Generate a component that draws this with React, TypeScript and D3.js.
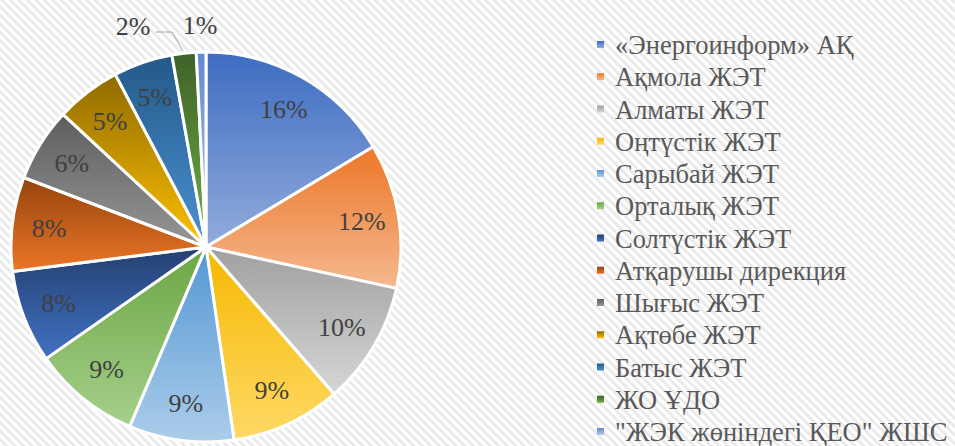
import React from "react";
import * as d3 from "d3";

const categories = [
  "«Энергоинформ» АҚ",
  "Ақмола ЖЭТ",
  "Алматы ЖЭТ",
  "Оңтүстік ЖЭТ",
  "Сарыбай ЖЭТ",
  "Орталық ЖЭТ",
  "Солтүстік ЖЭТ",
  "Атқарушы дирекция",
  "Шығыс ЖЭТ",
  "Ақтөбе ЖЭТ",
  "Батыс ЖЭТ",
  "ЖО ҰДО",
  "\"ЖЭК жөніндегі ҚЕО\" ЖШС",
];
const shares = [16.4, 12.0, 10.2, 9.1, 8.7, 8.9, 7.7, 7.8, 6.1, 5.4, 4.9, 2.0, 0.8];
const colors = [
  "#4472C4", "#ED7D31", "#A5A5A5", "#FFC000", "#5B9BD5", "#70AD47",
  "#264478", "#9E480E", "#636363", "#997300", "#255E91", "#43682B", "#698ED0",
];

const W = 955, H = 446;
const cx = 206, cy = 247, R = 195;
const SERIF = '"Liberation Serif"';

function shade(c: string, dl: number) {
  const h = d3.hsl(c);
  h.l = Math.max(0, Math.min(0.84, h.l + dl));
  return h.formatHex();
}

export default function App() {
  const pie = d3.pie<number>().sort(null).value((d) => d)(shares);
  const arc = d3.arc<d3.PieArcDatum<number>>().innerRadius(0).outerRadius(R);
  const total = d3.sum(shares);
  const fmt = (v: number) => Math.round((v / total) * 100) + "%";

  return (
    <svg width={W} height={H} style={{ position: "absolute", left: 0, top: 0 }}>
      <defs>
        <pattern id="bg" width="6" height="6" patternUnits="userSpaceOnUse" patternTransform="rotate(-45)">
          <rect width="6" height="6" fill="#ffffff" />
          <rect width="2.6" height="6" fill="#e8e8e8" />
        </pattern>
        {colors.map((c, i) => (
          <linearGradient key={i} id={"g" + i} x1="0" y1="0" x2="0" y2="1">
            <stop offset="0" stopColor={shade(c, -0.02)} />
            <stop offset="1" stopColor={shade(c, 0.2)} />
          </linearGradient>
        ))}
      </defs>
      <rect width={W} height={H} fill="url(#bg)" />
      <g transform={`translate(${cx},${cy})`}>
        {pie.map((p, i) => (
          <path key={i} d={arc(p) || ""} fill={`url(#g${i})`} stroke="#ffffff" strokeWidth={3} strokeLinejoin="round" />
        ))}
        {pie.map((p, i) => {
          if (i >= 11) return null;
          const a = (p.startAngle + p.endAngle) / 2;
          const r = R * 0.81;
          const x = Math.sin(a) * r;
          const y = -Math.cos(a) * r;
          return (
            <text key={i} x={x} y={y} textAnchor="middle" dominantBaseline="central"
              style={{ fontFamily: SERIF, fontSize: 26 }} fill="#404040">
              {fmt(shares[i])}
            </text>
          );
        })}
      </g>
      {(() => {
        const p = pie[11];
        const a = (p.startAngle + p.endAngle) / 2;
        const ex = cx + Math.sin(a) * R, ey = cy - Math.cos(a) * R;
        return (
          <g>
            <polyline points={`${156},${32} ${172},${32} ${ex - 1},${ey - 2}`} fill="none" stroke="#a6a6a6" strokeWidth={1} />
            <text x={133} y={26} textAnchor="middle" dominantBaseline="central"
              style={{ fontFamily: SERIF, fontSize: 26 }} fill="#404040">
              {fmt(shares[11])}
            </text>
          </g>
        );
      })()}
      <text x={200} y={25} textAnchor="middle" dominantBaseline="central"
        style={{ fontFamily: SERIF, fontSize: 26 }} fill="#404040">
        {fmt(shares[12])}
      </text>
      <g>
        {categories.map((c, i) => {
          const y = 45 + i * 32.25;
          return (
            <g key={i}>
              <rect x={597} y={y - 4} width={7} height={7} fill={`url(#g${i})`} />
              <text x={615} y={y} dominantBaseline="central"
                style={{ fontFamily: SERIF, fontSize: 26.5 }} fill="#595959">
                {c}
              </text>
            </g>
          );
        })}
      </g>
    </svg>
  );
}
